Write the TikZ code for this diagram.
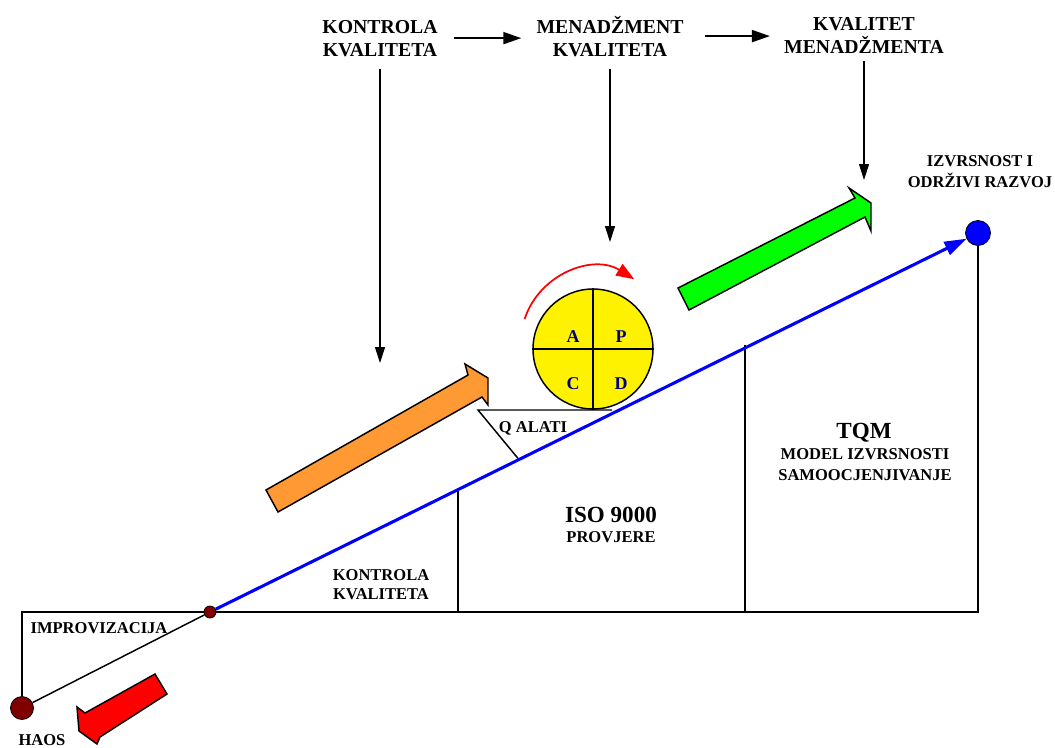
\documentclass[tikz,border=0pt]{standalone}
\usepackage{fontspec}
\setmainfont{Liberation Serif}
\usetikzlibrary{arrows.meta,calc}
\pgfdeclarelayer{bg}
\pgfsetlayers{bg,main}
\definecolor{navy}{HTML}{000080}
\definecolor{maroonc}{HTML}{800000}
\definecolor{orangec}{HTML}{FF9933}
\definecolor{greenc}{HTML}{00FF00}
\begin{document}
\begin{tikzpicture}[x=0.75pt,y=-0.75pt,
  lbl/.style={inner sep=0pt, anchor=base, align=center},
  smalltxt/.style={lbl, font=\bfseries\fontsize{12.4}{15.75}\selectfont},
  toptxt/.style={lbl, font=\bfseries\fontsize{14.8}{17.25}\selectfont},
  bigtxt/.style={lbl, font=\bfseries\fontsize{17.3}{20}\selectfont},
  pdcatxt/.style={lbl, text=navy, font=\bfseries\fontsize{13.5}{16}\selectfont},
  thinline/.style={line width=1.1pt},
  toparrow/.style={line width=1.5pt, -{Triangle[length=13.5pt,width=9pt]}},
  varrow/.style={line width=0.8pt, -{Triangle[length=12pt,width=7.5pt]}},
  blockarrow/.style={draw=black, line width=1.1pt, line join=miter},
  dot/.style={circle, draw=black, line width=0.6pt, inner sep=0pt}
]
\useasboundingbox (0,0) rectangle (1055,747);

% texts (multi-line nodes: base = baseline of last line)
\node[toptxt] (kk) at (380,56) {KONTROLA\\KVALITETA};
\node[toptxt] (mk) at (610,56) {MENADŽMENT\\KVALITETA};
\node[toptxt] (km) at (864,53) {KVALITET\\MENADŽMENTA};
\node[smalltxt] (izv) at (980,187) {IZVRSNOST I\\ODRŽIVI RAZVOJ};
\node[bigtxt] (tqm) at (864,438) {TQM};
\node[smalltxt] (mod) at (865,480) {MODEL IZVRSNOSTI\\SAMOOCJENJIVANJE};
\node[bigtxt] (iso) at (611,522) {ISO 9000};
\node[smalltxt] (prov) at (611,542) {PROVJERE};
\node[lbl, font=\bfseries\fontsize{12.4}{14.25}\selectfont] (kk2) at (381,599) {KONTROLA\\KVALITETA};
\node[smalltxt] (imp) at (99,633) {IMPROVIZACIJA};
\node[smalltxt] (haos) at (42,745) {HAOS};
\node[smalltxt] (qal) at (533,432) {Q ALATI};

% dots
\node[dot, fill=maroonc, minimum size=17.25pt] (haosdot) at (22,708) {};
\node[dot, fill=maroonc, minimum size=9pt] (impdot) at (210,612) {};
\node[dot, fill=blue, minimum size=18.75pt] (goal) at (978,233) {};

% PDCA wheel
\node[circle, draw=black, fill=yellow, line width=1.1pt, minimum size=90pt, inner sep=0pt] (pdca) at (593,349) {};
\draw[thinline] (pdca.north) -- (pdca.south);
\draw[thinline] (pdca.west) -- (pdca.east);
\node[pdcatxt] (pa) at (573,342) {A};
\node[pdcatxt] (pp) at (621,342) {P};
\node[pdcatxt] (pc) at (573,389) {C};
\node[pdcatxt] (pd) at (621,389) {D};

% coordinates
\coordinate (c0) at (22,612);
\coordinate (c4) at (978,612);
\coordinate (b1) at (458,488.3);
\coordinate (f1) at (458,612);
\coordinate (b2) at (745,345.2);
\coordinate (f2) at (745,612);
\coordinate (qa1) at (478,410);
\coordinate (qa2) at (612,410);
\coordinate (qa3) at (518,458.4);
\coordinate (kt) at (380,363);
\coordinate (mt) at (610,242);
\coordinate (kmt) at (864,180);
\coordinate (arcs) at (524.6,319.1);
\coordinate (arce) at (634.2,279.2);

\begin{pgfonlayer}{bg}
\draw[thinline] (haosdot) -- (c0) -- (c4) -- (goal);
\draw[thinline] (haosdot) -- (impdot);
\draw[thinline] (b1) -- (f1);
\draw[thinline] (b2) -- (f2);
\draw[thinline] (qa2) -- (qa1) -- (qa3);
\draw[line width=2.3pt, blue, -{Triangle[length=16.5pt,width=10.5pt]}] (impdot) -- (goal);
\end{pgfonlayer}

% top arrows
\draw[toparrow, shorten <=12pt, shorten >=11.25pt] (kk.east) -- (kk.east -| mk.west);
\draw[toparrow, shorten <=15.75pt, shorten >=10.5pt] (mk.east) -- (mk.east -| km.west);
\draw[varrow, shorten <=9pt] (kk.south) -- (kt);
\draw[varrow, shorten <=9pt] (mk.south) -- (mt);
\draw[varrow, shorten <=6pt] (km.south) -- (kmt);

% rotation arrow
\draw[red, line width=1.3pt, -{Triangle[length=13.5pt,width=10pt]}] (arcs) .. controls (539.5,273.4) and (593.4,253.7) .. (arce);

% block arrows
\draw[blockarrow, fill=orangec] (266,490) -- (468,375) -- (465,364) -- (488,378) -- (488,405) -- (482,397) -- (278,512) -- cycle;
\draw[blockarrow, fill=greenc] (678,288) -- (855,198) -- (849,188) -- (871,203) -- (871,231) -- (865,217) -- (689,310) -- cycle;
\draw[blockarrow, fill=red] (155,674) -- (85,713) -- (77,707) -- (79,731) -- (97,744) -- (100,737) -- (167,694) -- cycle;
\end{tikzpicture}
\end{document}
